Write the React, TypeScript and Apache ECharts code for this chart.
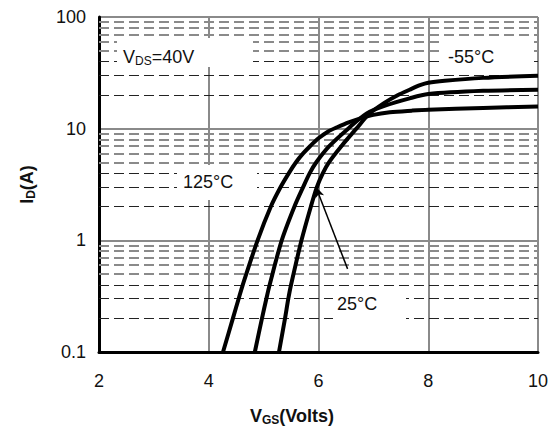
import React, { useEffect, useRef } from "react";
import * as echarts from "echarts";

const FONT = '"Liberation Sans", Arial, sans-serif';

// Transfer characteristics, ID (A) vs VGS (V)
const vgs125 = [4.26, 4.44, 4.545, 4.62, 4.89, 5.13, 5.31, 5.46, 5.59, 5.72, 5.85, 6.0, 6.17, 6.34, 6.55, 6.75, 7.0, 7.3, 7.7, 8, 9, 10];
const id125 = [0.1, 0.2, 0.3, 0.4, 1, 2, 3, 4, 5, 6, 7, 8.2, 9.4, 10.3, 11.4, 12.3, 13.3, 14.0, 14.5, 14.8, 15.3, 15.8];

const vgs25 = [4.84, 4.97, 5.05, 5.11, 5.33, 5.56, 5.72, 5.84, 5.96, 6.2, 6.54, 6.88, 7.2, 7.66, 8, 9, 10];
const id25 = [0.1, 0.2, 0.3, 0.4, 1, 2, 3, 4, 5, 7, 10, 13.7, 16, 18.7, 20.4, 21.8, 22.3];

const vgsM55 = [5.28, 5.39, 5.45, 5.5, 5.69, 5.86, 5.97, 6.08, 6.19, 6.42, 6.69, 6.92, 7.2, 7.45, 7.66, 7.85, 8, 8.3, 9, 10];
const idM55 = [0.1, 0.2, 0.3, 0.4, 1, 2, 3, 4, 5, 7, 10, 13.5, 17, 20, 22.3, 24.5, 25.8, 26.9, 28.5, 29.8];

const decades = [0.1, 1, 10];
const minorDark = [2, 3, 4];
const minorGray = [5, 6, 7, 8, 9];

// Arrow annotation for 25°C label (data coords)
const arrowFrom = [6.53, 0.555];
const arrowTo = [5.95, 3.03];

const zip = (xs: number[], ys: number[]) => xs.map((x, i) => [x, ys[i]]);

export default function App() {
  const ref = useRef<HTMLDivElement>(null);
  useEffect(() => {
    const chart = echarts.init(ref.current!, null, { renderer: "svg" });
    const minorLines: any[] = [];
    decades.forEach((d) => {
      minorDark.forEach((k) =>
        minorLines.push({
          yAxis: +(k * d).toPrecision(3),
          lineStyle: { color: "#222", width: 1, type: [10, 5] },
        })
      );
      minorGray.forEach((k) =>
        minorLines.push({
          yAxis: +(k * d).toPrecision(3),
          lineStyle: { color: "#8a8a8a", width: 1.8, type: [10, 5] },
        })
      );
    });
    const curve = (name: string, xs: number[], ys: number[], extra: any = {}) => ({
      type: "line",
      name,
      data: zip(xs, ys),
      smooth: 0.3,
      symbol: "none",
      z: 3,
      lineStyle: { color: "#000", width: 4 },
      ...extra,
    });
    const textStyle = { fontFamily: FONT, fontSize: 18, fill: "#111" };
    const nameRich = {
      a: { fontFamily: FONT, fontSize: 18, fontWeight: "bold", color: "#111", lineHeight: 20 },
      b: { fontFamily: FONT, fontSize: 12, fontWeight: "bold", color: "#111", lineHeight: 11, verticalAlign: "bottom" },
    };
    chart.setOption({
      animation: false,
      grid: { left: 99, right: 14, top: 17, bottom: 79, containLabel: false, outerBoundsMode: "none" },
      xAxis: {
        type: "value",
        min: 2,
        max: 10,
        interval: 2,
        name: "{a|V}{b|GS}{a|(Volts)}",
        nameLocation: "middle",
        nameGap: 54,
        nameTextStyle: { padding: [0, 53, 0, 0], rich: nameRich },
        axisLine: { show: true, onZero: false, lineStyle: { color: "#000", width: 3 } },
        axisTick: { show: false },
        axisLabel: { fontFamily: FONT, fontSize: 18, color: "#111", margin: 20 },
        splitLine: { show: true, lineStyle: { color: "#8a8a8a", width: 2 } },
      },
      yAxis: {
        type: "log",
        logBase: 10,
        min: 0.1,
        max: 100,
        name: "{a|I}{b|D}{a|(A)}",
        nameLocation: "middle",
        nameGap: 62,
        nameTextStyle: { rich: nameRich },
        axisLine: { show: true, lineStyle: { color: "#000", width: 3 } },
        axisTick: { show: false },
        axisLabel: { fontFamily: FONT, fontSize: 18, color: "#111", margin: 13 },
        splitLine: { show: true, lineStyle: { color: "#8a8a8a", width: 2 } },
        minorSplitLine: { show: false },
      },
      series: [
        {
          type: "line",
          data: [],
          z: 1,
          silent: true,
          markLine: {
            z: 1,
            silent: true,
            symbol: ["none", "none"],
            label: { show: false },
            data: minorLines,
          },
        },
        curve("125°C", vgs125, id125),
        curve("25°C", vgs25, id25),
        curve("-55°C", vgsM55, idM55, {
          markLine: {
            z: 6,
            silent: true,
            symbol: ["none", "arrow"],
            symbolSize: [7, 11],
            label: { show: false },
            lineStyle: { color: "#000", width: 1.5, type: "solid" },
            data: [[{ coord: arrowFrom }, { coord: arrowTo }]],
          },
        }),
      ],
      graphic: [
        { type: "rect", z: 10, silent: true, shape: { x: 117, y: 38, width: 136, height: 29 }, style: { fill: "#fff" } },
        { type: "rect", z: 10, silent: true, shape: { x: 441, y: 38, width: 89, height: 29 }, style: { fill: "#fff" } },
        { type: "rect", z: 10, silent: true, shape: { x: 177, y: 165, width: 80, height: 35 }, style: { fill: "#fff" } },
        { type: "rect", z: 10, silent: true, shape: { x: 333, y: 290, width: 73, height: 40 }, style: { fill: "#fff" } },
        {
          type: "text",
          z: 11,
          x: 123,
          y: 57,
          style: {
            text: "{a|V}{b|DS}{a|=40V}",
            verticalAlign: "middle",
            rich: {
              a: { fontFamily: FONT, fontSize: 18, fill: "#111", lineHeight: 20 },
              b: { fontFamily: FONT, fontSize: 12, fill: "#111", lineHeight: 11, verticalAlign: "bottom" },
            },
          },
        },
        { type: "text", z: 11, x: 448, y: 57, style: { ...textStyle, text: "-55°C", verticalAlign: "middle" } },
        { type: "text", z: 11, x: 183, y: 182, style: { ...textStyle, text: "125°C", verticalAlign: "middle" } },
        { type: "text", z: 11, x: 337, y: 304, style: { ...textStyle, text: "25°C", verticalAlign: "middle" } },
      ],
    });
    return () => chart.dispose();
  }, []);
  return <div ref={ref} style={{ position: "absolute", left: 0, top: 0, width: 552, height: 431 }} />;
}
